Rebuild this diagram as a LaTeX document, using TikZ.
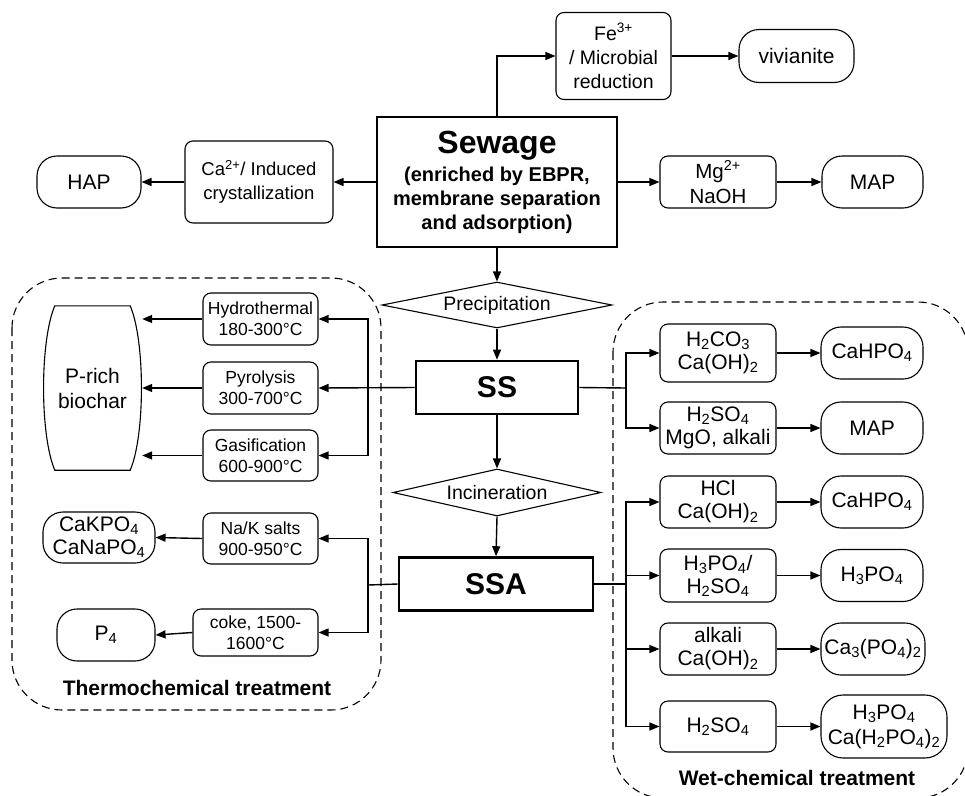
\documentclass[tikz,border=0pt]{standalone}
\usepackage{fontspec}
\setmainfont{Liberation Sans}
\usetikzlibrary{shapes.geometric,arrows.meta,calc}
\newcommand\sbx[1]{\textsubscript{#1}}
\newcommand\spx[1]{\textsuperscript{#1}}
\begin{document}
\begin{tikzpicture}[x=1pt,y=-1pt,
  every node/.style={inner sep=0pt,align=center},
  arr/.style={line width=1.4pt,-{Triangle[length=10pt,width=8pt]}},
  ln/.style={line width=1.4pt},
  bigbox/.style={draw,line width=2.6pt,font=\bfseries},
  proc/.style={draw,line width=1.1pt,rounded corners=8pt},
  res/.style={draw,line width=1.1pt,rounded corners=20pt,font=\fontsize{21}{24}\selectfont},
  thproc/.style={proc,minimum width=115,font=\fontsize{17.5}{21}\selectfont},
  wproc/.style={proc,minimum width=116,font=\fontsize{21}{23}\selectfont},
  wres/.style={res,minimum width=102,minimum height=52},
  dia/.style={draw,diamond,aspect=5,line width=1.1pt,font=\fontsize{19.5}{23}\selectfont},
  grp/.style={draw,dashed,dash pattern=on 8pt off 5pt,line width=1.1pt,rounded corners=50pt},
  grplabel/.style={font=\fontsize{21}{24}\selectfont\bfseries}]
\useasboundingbox (0,0) rectangle (965,795);
\begin{scope}
\clip (0,0) rectangle (965,795);
% group frames
\draw[grp] (12,278) rectangle (381,710);
\draw[grp] (613,302) rectangle (968,798);
\node[grplabel] (thlabel) at (197,688) {Thermochemical treatment};
\node[grplabel] (wetlabel) at (797,778) {Wet-chemical treatment};

% central column
\node[bigbox,minimum width=240,minimum height=130,font=\fontsize{20}{24}\selectfont\bfseries] (sewage) at (497,182)
  {{\fontsize{32}{34}\selectfont Sewage}\\[4pt](enriched by EBPR,\\membrane separation\\and adsorption)};
\node[dia,minimum width=230,minimum height=46] (prec) at (497,305) {Precipitation};
\node[bigbox,minimum width=162,minimum height=53,font=\fontsize{30}{32}\selectfont\bfseries] (ss) at (497,387.5) {SS};
\node[dia,minimum width=208,minimum height=47] (inc) at (497,492.5) {Incineration};
\node[bigbox,minimum width=194,minimum height=53,font=\fontsize{30}{32}\selectfont\bfseries] (ssa) at (496,584) {SSA};

% top branch
\node[proc,minimum width=115,minimum height=87,font=\fontsize{19.5}{24}\selectfont] (fe) at (613.5,56) {Fe\spx{3+}\\/ Microbial\\reduction};
\node[res,minimum width=115,minimum height=53] (viv) at (796.5,56) {vivianite};
\node[proc,minimum width=116,minimum height=52,font=\fontsize{20.5}{25}\selectfont] (mg) at (718,182) {Mg\spx{2+}\\NaOH};
\node[res,minimum width=101,minimum height=52] (mapa) at (872.5,182) {MAP};
\node[proc,minimum width=148,minimum height=82,font=\fontsize{18.5}{24}\selectfont] (ca) at (259,182) {Ca\spx{2+}/ Induced\\crystallization};
\node[res,minimum width=104,minimum height=52] (hap) at (89,182) {HAP};

\draw[arr] (sewage.north) |- (fe.west);
\draw[arr] (fe.east) -- (viv.west);
\draw[arr] (sewage.east) -- (mg.west);
\draw[arr] (mg.east) -- (mapa.west);
\draw[arr] (sewage.west) -- (ca.east);
\draw[arr] (ca.west) -- (hap.east);
\draw[arr] (sewage.south) -- (prec.north);
\draw[arr] (prec.south) -- (ss.north);
\draw[arr] (ss.south) -- (inc.north);
\draw[arr] (inc.south) -- (ssa.north);

% thermochemical
\node[thproc,minimum height=52] (hydro) at (260.5,319) {Hydrothermal\\180-300°C};
\node[thproc,minimum height=52] (pyro) at (260.5,388) {Pyrolysis\\300-700°C};
\node[thproc,minimum height=51] (gas) at (260.5,455.5) {Gasification\\600-900°C};
\node[thproc,minimum height=51] (nak) at (260.5,538.5) {Na/K salts\\900-950°C};
\node[thproc,minimum width=125,minimum height=47] (coke) at (255.5,632.5) {coke, 1500-\\1600°C};
\node[minimum width=99,minimum height=164,font=\fontsize{21}{25}\selectfont] (biochar) at (92.5,388) {P-rich\\biochar};
\draw[line width=1.1pt]
  ($(biochar.north west)+(12,0)$) -- ($(biochar.north east)+(-12,0)$)
  .. controls ($(biochar.north east)+(3,35)$) and ($(biochar.south east)+(3,-35)$) .. ($(biochar.south east)+(-12,0)$)
  -- ($(biochar.south west)+(12,0)$)
  .. controls ($(biochar.south west)+(-3,-35)$) and ($(biochar.north west)+(-3,35)$) .. cycle;
\node[res,minimum width=112,minimum height=51,font=\fontsize{21}{23}\selectfont] (cak) at (99,537.5) {CaKPO\sbx{4}\\CaNaPO\sbx{4}};
\node[res,minimum width=98,minimum height=52] (pfour) at (106,635) {P\sbx{4}};

\coordinate (lbus1) at (368,388);
\draw[arr] (ss.west) -- (pyro.east);
\draw[arr] (lbus1) |- (hydro.east);
\draw[arr] (lbus1) |- (gas.east);
\draw[arr] (hydro.west) -- (hydro.west -| biochar.east);
\draw[arr] (pyro.west) -- (pyro.west -| biochar.east);
\draw[arr] (gas.west) -- (gas.west -| biochar.east);
\coordinate (lbus2) at (368,585);
\draw[ln] (ssa.west) -- (lbus2);
\draw[arr] (lbus2) |- (nak.east);
\draw[arr] (lbus2) |- (coke.east);
\draw[arr] (nak.west) -- (cak.east);
\draw[arr] (coke.west) -- (pfour.east);

% wet-chemical
\node[wproc,minimum height=58] (wa) at (718,353) {H\sbx{2}CO\sbx{3}\\Ca(OH)\sbx{2}};
\node[wproc,minimum height=52] (wb) at (718,428) {H\sbx{2}SO\sbx{4}\\MgO, alkali};
\node[wproc,minimum height=52] (wc) at (718,502) {HCl\\Ca(OH)\sbx{2}};
\node[wproc,minimum height=53] (wd) at (718,575.5) {H\sbx{3}PO\sbx{4}/\\H\sbx{2}SO\sbx{4}};
\node[wproc,minimum height=52] (we) at (718,649) {alkali\\Ca(OH)\sbx{2}};
\node[wproc,minimum height=51] (wf) at (718,726.5) {H\sbx{2}SO\sbx{4}};
\node[wres] (ra) at (872,353) {CaHPO\sbx{4}};
\node[wres] (rb) at (872,428) {MAP};
\node[wres] (rc) at (872,502) {CaHPO\sbx{4}};
\node[wres] (rd) at (872,575.5) {H\sbx{3}PO\sbx{4}};
\node[wres,minimum width=104] (re) at (873,649) {Ca\sbx{3}(PO\sbx{4})\sbx{2}};
\node[res,minimum width=126,minimum height=63,rounded corners=22pt,font=\fontsize{21}{25}\selectfont] (rf) at (884,726.5) {H\sbx{3}PO\sbx{4}\\Ca(H\sbx{2}PO\sbx{4})\sbx{2}};

\coordinate (rbus1) at (626,388);
\draw[ln] (ss.east) -- (rbus1);
\draw[arr] (rbus1) |- (wa.west);
\draw[arr] (rbus1) |- (wb.west);
\coordinate (rbus2) at (626,584);
\draw[ln] (ssa.east) -- (rbus2);
\draw[arr] (rbus2) |- (wc.west);
\draw[arr] (rbus2) |- (wf.west);
\draw[arr] (rbus2 |- wd.west) -- (wd.west);
\draw[arr] (rbus2 |- we.west) -- (we.west);
\draw[arr] (wa.east) -- (ra.west);
\draw[arr] (wb.east) -- (rb.west);
\draw[arr] (wc.east) -- (rc.west);
\draw[arr] (wd.east) -- (rd.west);
\draw[arr] (we.east) -- (re.west);
\draw[arr] (wf.east) -- (rf.west);
\end{scope}
\end{tikzpicture}
\end{document}
